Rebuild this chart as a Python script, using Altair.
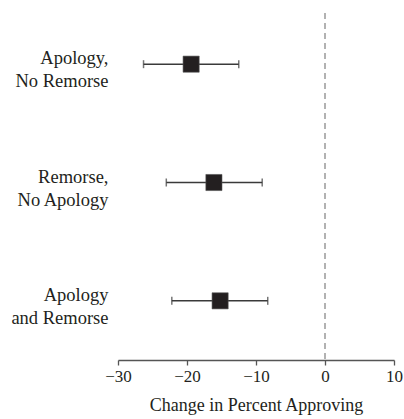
import altair as alt
import pandas as pd

conditions = ["Apology,|No Remorse", "Remorse,|No Apology", "Apology|and Remorse"]
estimate = [-19.4, -16.1, -15.2]
lower = [-26.3, -23.0, -22.2]
upper = [-12.5, -9.1, -8.3]
x_ticks = [-30, -20, -10, 0, 10]

df = pd.DataFrame({"cond": conditions, "est": estimate, "lo": lower, "hi": upper})

FONT = "Liberation Serif"
INK = "#231f20"
W, H = 276, 355

xscale = alt.Scale(domain=[-30, 10], nice=False, zero=False)
yscale = alt.Scale(domain=conditions, paddingInner=0, paddingOuter=0)

xaxis = alt.Axis(values=x_ticks, title="Change in Percent Approving", grid=False,
                 domainColor="#555555", tickColor="#555555", tickSize=5, domainWidth=1.3,
                 tickWidth=1.3, labelFontSize=17, labelColor=INK, labelFont=FONT,
                 labelPadding=3, titleFont=FONT, titleFontSize=18, titleFontWeight="normal",
                 titleColor=INK, titlePadding=12, labelFlush=False)
yaxis = alt.Axis(title=None, domain=False, ticks=False, grid=False, labelFont=FONT,
                 labelFontSize=18.5, labelColor=INK, labelPadding=10, labelLineHeight=23,
                 labelOffset=-6,
                 labelExpr="split(datum.label, '|')", labelAlign="right", labelBaseline="middle")

base = alt.Chart(df)

zero = alt.Chart(pd.DataFrame({"z": [0]})).mark_rule(
    color="#999999", strokeDash=[6, 4], strokeWidth=1.5
).encode(x=alt.X("z:Q", scale=xscale, axis=xaxis), y=alt.value(8), y2=alt.value(H))

bars = base.mark_rule(color="#3a3a3a", strokeWidth=1.5).encode(
    x=alt.X("lo:Q", scale=xscale, axis=xaxis),
    x2="hi:Q",
    y=alt.Y("cond:N", scale=yscale, axis=yaxis, sort=conditions),
)
cap_lo = base.mark_tick(color="#3a3a3a", thickness=1.5, size=8, orient="vertical").encode(
    x=alt.X("lo:Q", scale=xscale, axis=xaxis),
    y=alt.Y("cond:N", scale=yscale, axis=yaxis, sort=conditions),
)
cap_hi = base.mark_tick(color="#3a3a3a", thickness=1.5, size=8, orient="vertical").encode(
    x=alt.X("hi:Q", scale=xscale, axis=xaxis),
    y=alt.Y("cond:N", scale=yscale, axis=yaxis, sort=conditions),
)
pts = base.mark_square(color=INK, opacity=1, size=260, stroke="#555555", strokeWidth=0.6).encode(
    x=alt.X("est:Q", scale=xscale, axis=xaxis),
    y=alt.Y("cond:N", scale=yscale, axis=yaxis, sort=conditions),
)

chart = alt.layer(zero, bars, cap_lo, cap_hi, pts).properties(
    width=W, height=H,
    autosize=alt.AutoSizeParams(type="none"),
    padding={"left": 118, "top": 5, "right": 10, "bottom": 58},
    background="white",
).configure_view(stroke=None).configure_axisY(domain=False, ticks=False)

chart.save("out.html", embed_options={"renderer": "svg", "actions": False})
